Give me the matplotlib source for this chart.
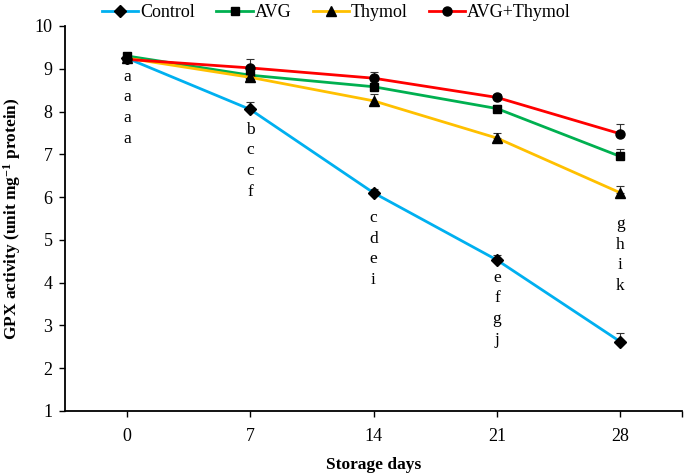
import matplotlib.pyplot as plt
from matplotlib.lines import Line2D
import numpy as np

# datos
dias = ["0", "7", "14", "21", "28"]
control = [9.25, 8.05, 6.10, 4.53, 2.62]
avg = [9.30, 8.85, 8.58, 8.07, 6.95]
thymol = [9.25, 8.80, 8.25, 7.38, 6.10]
avg_thymol = [9.22, 9.02, 8.78, 8.33, 7.48]

err_control = [0.08, 0.17, 0.10, 0.12, 0.20]
err_avg = [0.08, 0.08, 0.08, 0.08, 0.18]
err_thymol = [0.06, 0.08, 0.15, 0.13, 0.17]
err_avg_thymol = [0.06, 0.20, 0.15, 0.08, 0.23]

letras = [["a", "a", "a", "a"],
          ["b", "c", "c", "f"],
          ["c", "d", "e", "i"],
          ["e", "f", "g", "j"],
          ["g", "h", "i", "k"]]
letras_y = [8.81, 7.57, 5.51, 4.11, 5.37]

plt.rcParams["font.family"] = ["Liberation Serif", "DejaVu Serif"]
plt.rcParams["mathtext.fontset"] = "custom"
plt.rcParams["mathtext.rm"] = "Liberation Serif:bold"
plt.rcParams["mathtext.default"] = "rm"

fig = plt.figure(figsize=(6.85, 4.76), dpi=100)
ax = fig.add_axes([0.095, 0.1366, 0.9006, 0.8088])

x = np.arange(len(dias))

series = [
    ("Control", control, err_control, "#00B0F0", "D", 6),
    ("AVG", avg, err_avg, "#00B050", "s", 6),
    ("Thymol", thymol, err_thymol, "#FFC000", "^", 6.5),
    ("AVG+Thymol", avg_thymol, err_avg_thymol, "#FF0000", "o", 6.5),
]

handles = []
for nome, vals, err, cor, mk, ms in series:
    ax.errorbar(x, vals, yerr=[np.zeros(len(err)), err], color=cor, lw=2,
                marker=mk, ms=ms, mfc="black", mec="black",
                ecolor="#333333", elinewidth=0.8, capsize=3, capthick=0.8)
    handles.append(Line2D([], [], color=cor, lw=2, marker=mk, ms=ms,
                          mfc="black", mec="black", label=nome))

for i, col in enumerate(letras):
    for j, l in enumerate(col):
        ax.annotate(l, (x[i], letras_y[i]), xytext=(0, -j * 14.8),
                    textcoords="offset points", ha="center", va="center",
                    fontsize=12.5)

ax.set_xlim(-0.5, 4.5)
ax.set_ylim(1, 10)
ax.set_yticks(range(1, 11))
ax.set_xticks(list(x) + [4.5])
ax.set_xticklabels(dias + [""])
ax.tick_params(labelsize=13, length=4, width=1, color="black")
ax.tick_params(axis="y", pad=5)
ax.tick_params(axis="x", pad=8)

for s in ["top", "right"]:
    ax.spines[s].set_visible(False)
for s in ["left", "bottom"]:
    ax.spines[s].set_linewidth(1.3)

ax.set_xlabel("Storage days", fontsize=12.5, fontweight="bold", labelpad=9)
ax.set_ylabel("GPX activity (unit mg$^{-1}$ protein)", fontsize=12.5,
              fontweight="bold", labelpad=8)

ax.legend(handles=handles, loc="upper center", bbox_to_anchor=(0.44, 1.075),
          ncol=4, frameon=False, fontsize=13, handlelength=2.0,
          handletextpad=0.1, columnspacing=1.2, borderaxespad=0)

fig.savefig("out.png", dpi=100)
